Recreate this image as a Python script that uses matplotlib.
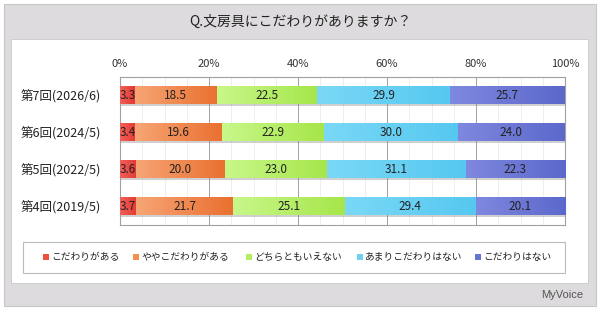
import matplotlib
matplotlib.use("Agg")
import matplotlib.pyplot as plt
from matplotlib.patches import Rectangle
from matplotlib.colors import to_rgb
import numpy as np

plt.rcParams['font.family'] = ['Noto Sans CJK JP', 'DejaVu Sans']

rounds = ['第7回(2026/6)', '第6回(2024/5)', '第5回(2022/5)', '第4回(2019/5)']
answers = ['こだわりがある', 'ややこだわりがある', 'どちらともいえない',
           'あまりこだわりはない', 'こだわりはない']
values = np.array([
    [3.3, 18.5, 22.5, 29.9, 25.7],
    [3.4, 19.6, 22.9, 30.0, 24.0],
    [3.6, 20.0, 23.0, 31.1, 22.3],
    [3.7, 21.7, 25.1, 29.4, 20.1],
])
# (left, right) gradient colours for each answer
grad_colors = [('#f2605a', '#e23a32'), ('#f7a575', '#ea7030'), ('#c8f78a', '#a6e64a'),
               ('#7ad8f6', '#56c8f0'), ('#7e88de', '#5c68cc')]
legend_colors = ['#f0503c', '#f59050', '#b5ee60', '#70d0ee', '#6676d0']
ticks = [0, 20, 40, 60, 80, 100]

W, H = 600, 312
fig = plt.figure(figsize=(6, 3.12), dpi=100)
fig.patch.set_facecolor('white')

def px(x, y, w, h):
    return (x / W, 1 - (y + h) / H, w / W, h / H)

# outer grey frame and white panel
x0, y0, w0, h0 = px(4, 4, 592, 302)
fig.patches.append(Rectangle((x0, y0), w0, h0, transform=fig.transFigure,
                             facecolor='#dddbdd', edgecolor='#c8c6c8', lw=0.8, zorder=0))
x1, y1, w1, h1 = px(11, 39, 577, 244)
fig.patches.append(Rectangle((x1, y1), w1, h1, transform=fig.transFigure,
                             facecolor='white', edgecolor='#c8c8c8', lw=0.6, zorder=0))

fig.text(300 / W, 1 - 22 / H, 'Q.文房具にこだわりがありますか？', ha='center', va='center',
         fontsize=10, color='#222222')
fig.text(583 / W, 1 - 295 / H, 'MyVoice', ha='right', va='center',
         fontsize=8, color='#555555', family=['Liberation Sans', 'DejaVu Sans'])

ax = fig.add_axes(px(120, 77, 445, 148))
ax.set_zorder(5)
ax.set_facecolor('white')

y = np.arange(len(rounds))
bh = 0.48
left = np.zeros(len(rounds))
for j in range(len(answers)):
    c0 = np.array(to_rgb(grad_colors[j][0]))
    c1 = np.array(to_rgb(grad_colors[j][1]))
    grad = np.linspace(0, 1, 64)[:, None] * (c1 - c0) + c0
    ax.barh(y + 0.05, values[:, j], left=left, height=bh, color='#8a8a8a',
            alpha=0.4, zorder=2)
    for i in range(len(rounds)):
        l, w = left[i], values[i, j]
        ax.imshow(grad[None, :, :], extent=[l, l + w, y[i] + bh / 2, y[i] - bh / 2],
                  aspect='auto', interpolation='bilinear', zorder=3)
        ax.text(l + w / 2, y[i], f'{w:.1f}', ha='center', va='center',
                fontsize=8.5, color='#222222', zorder=4)
    left += values[:, j]

ax.set_xlim(0, 100)
ax.set_ylim(len(rounds) - 0.5, -0.5)
ax.set_xticks(ticks)
ax.set_xticklabels([f'{t}%' for t in ticks])
ax.set_xticks(np.arange(0, 101, 5), minor=True)
ax.xaxis.tick_top()
ax.tick_params(axis='x', which='both', length=0, pad=6, labelsize=8, colors='#333333')
ax.set_yticks(y)
ax.set_yticklabels(rounds)
ax.tick_params(axis='y', length=0, pad=14, labelsize=9, colors='#222222')
ax.grid(axis='x', which='major', color='#a0a0a0', lw=0.7, zorder=0)
ax.grid(axis='x', which='minor', color='#ebebeb', lw=0.6, zorder=0)
ax.set_axisbelow(True)
for s in ax.spines.values():
    s.set_color('#a0a0a0')
    s.set_linewidth(0.8)

# legend box
lx, ly, lw_, lh = px(23, 242, 542, 31)
fig.patches.append(Rectangle((lx, ly), lw_, lh, transform=fig.transFigure,
                             facecolor='white', edgecolor='#bbbbbb', lw=0.8, zorder=1))
marker_x = [46, 136, 249, 360, 478]
for mx, label, c in zip(marker_x, answers, legend_colors):
    fig.patches.append(Rectangle(((mx - 3) / W, 1 - 260 / H), 6 / W, 6 / H,
                                 transform=fig.transFigure, facecolor=c,
                                 edgecolor='none', zorder=2))
    fig.text((mx + 5) / W, 1 - 257 / H, label, ha='left', va='center',
             fontsize=7, color='#222222')

fig.savefig('out.png', dpi=100)
